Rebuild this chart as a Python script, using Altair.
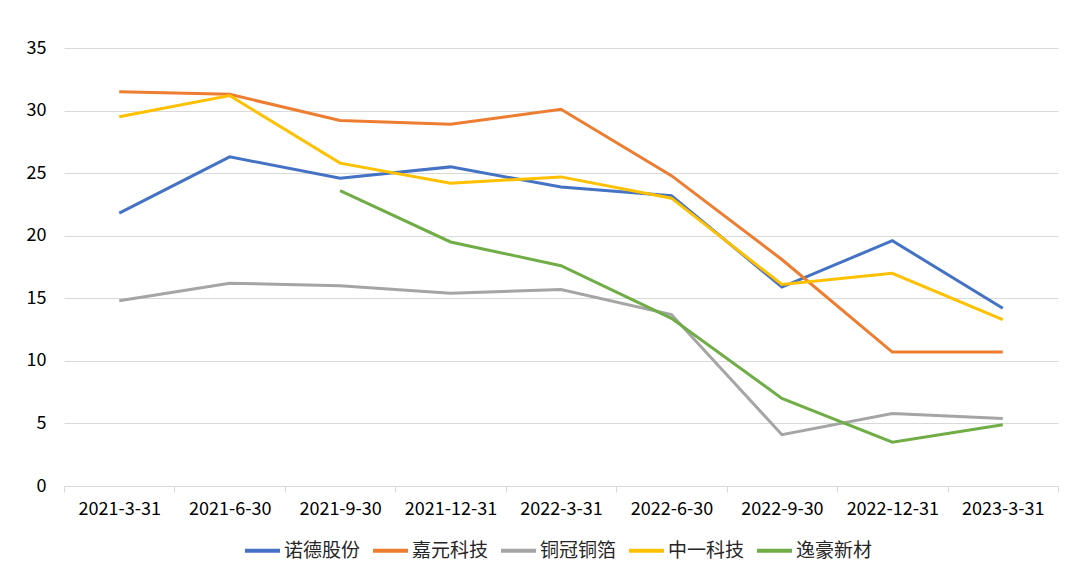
import altair as alt
import pandas as pd

dates = ["2021-3-31", "2021-6-30", "2021-9-30", "2021-12-31", "2022-3-31",
         "2022-6-30", "2022-9-30", "2022-12-31", "2023-3-31"]
series_names = ["诺德股份", "嘉元科技", "铜冠铜箔", "中一科技", "逸豪新材"]
nuode = [21.8, 26.3, 24.6, 25.5, 23.9, 23.2, 15.9, 19.6, 14.2]
jiayuan = [31.5, 31.3, 29.2, 28.9, 30.1, 24.8, 18.1, 10.7, 10.7]
tongguan = [14.8, 16.2, 16.0, 15.4, 15.7, 13.7, 4.1, 5.8, 5.4]
zhongyi = [29.5, 31.2, 25.8, 24.2, 24.7, 23.0, 16.1, 17.0, 13.3]
yihao = [None, None, 23.6, 19.5, 17.6, 13.4, 7.0, 3.5, 4.9]
colors = ["#4472C4", "#ED7D31", "#A5A5A5", "#FFC000", "#70AD47"]

rows = []
for name, vals in zip(series_names, [nuode, jiayuan, tongguan, zhongyi, yihao]):
    for d, v in zip(dates, vals):
        if v is not None:
            rows.append({"date": d, "series": name, "value": v})
df = pd.DataFrame(rows)

font = "Noto Sans CJK SC"

chart = alt.Chart(df).mark_line(strokeWidth=3).encode(
    x=alt.X("date:N", sort=dates, bandPosition=0.5,
            scale=alt.Scale(type="band", paddingInner=0, paddingOuter=0),
            axis=alt.Axis(title=None, labelAngle=0, tickBand="extent", grid=False,
                          domainColor="#d9d9d9", tickColor="#d9d9d9", tickSize=6,
                          labelPadding=8, labelFontSize=18, labelColor="#000000",
                          labelFont=font, domainWidth=1)),
    y=alt.Y("value:Q", scale=alt.Scale(domain=[0, 35], nice=False),
            axis=alt.Axis(title=None, values=[0, 5, 10, 15, 20, 25, 30, 35],
                          domain=False, ticks=False, gridColor="#d9d9d9",
                          labelPadding=18, labelFontSize=18, labelColor="#000000",
                          labelFont=font)),
    color=alt.Color("series:N", sort=series_names,
                    scale=alt.Scale(domain=series_names, range=colors),
                    legend=alt.Legend(title=None, orient="none", direction="horizontal",
                                      legendX=179, legendY=483,
                                      symbolType="stroke", symbolSize=1225,
                                      symbolStrokeWidth=4, labelFontSize=19,
                                      labelFont=font, labelColor="#262626",
                                      labelOffset=2, columnPadding=4)),
).properties(
    width=994, height=438,
    autosize=alt.AutoSizeParams(type="none"),
    padding={"left": 56, "top": 40, "right": 14, "bottom": 80},
).configure_view(stroke=None)

chart.save("out.html", embed_options={"renderer": "svg", "actions": False})
